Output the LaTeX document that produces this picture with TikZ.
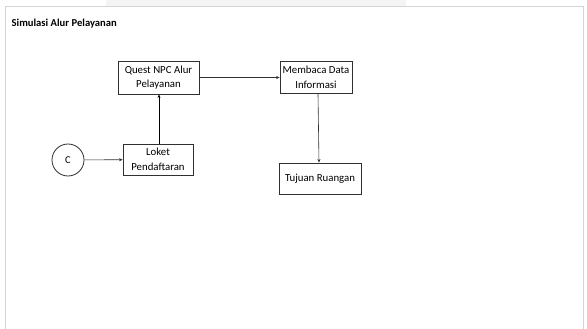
\documentclass[tikz,border=0pt]{standalone}
\usepackage{fontspec}
\setmainfont{Carlito}
\usetikzlibrary{arrows.meta}
\definecolor{framegray}{HTML}{D4D4D4}
\definecolor{tabgray}{HTML}{F4F4F4}
\definecolor{linegray}{HTML}{303030}
\begin{document}
\begin{tikzpicture}[x=1pt,y=-1pt,
  boxnode/.style={draw=linegray,line width=0.8pt,fill=white,font=\fontsize{10.8}{14.5}\selectfont,align=center,inner sep=0pt},
  conn/.style={draw=linegray,line width=0.6pt,-{Stealth[length=3.5pt,width=3pt]}}]
\useasboundingbox (0,0) rectangle (587,329);
\fill[white] (0,0) rectangle (587,329);
% faint tab at top
\fill[tabgray] (107,0) -- (406,0) -- (406,7) -- (105,7) -- cycle;
% page frame
\draw[framegray,line width=1pt] (5.5,329) -- (5.5,7) -- (583,7) -- (583,329);
% title
\node[anchor=west,inner sep=0pt,font=\bfseries\fontsize{10.6}{12}\selectfont] (title) at (11.5,24) {Simulasi Alur Pelayanan};
% nodes
\node[boxnode,minimum width=81pt,minimum height=33pt] (quest) at (158.5,77.5) {Quest NPC Alur\\Pelayanan};
\node[boxnode,minimum width=72pt,minimum height=32pt] (baca) at (316,77.5) {Membaca Data\\Informasi};
\node[boxnode,minimum width=70pt,minimum height=31pt] (loket) at (158,159.5) {Loket\\Pendaftaran};
\node[boxnode,minimum width=82pt,minimum height=31pt] (tujuan) at (320,178.5) {Tujuan Ruangan};
\node[circle,draw=linegray,line width=0.8pt,minimum size=32pt,inner sep=0pt,font=\fontsize{10.5}{12}\selectfont] (c) at (68,160) {C};
% connectors
\draw[conn] (c) -- (loket);
\draw[conn,draw=black,line width=0.9pt] (loket.north -| 159,0) -- (quest.south -| 159,0);
\draw[conn] (quest) -- (baca);
\draw[conn] (baca.south -| 318,0) -- (tujuan.north -| 319,0);
\end{tikzpicture}
\end{document}
